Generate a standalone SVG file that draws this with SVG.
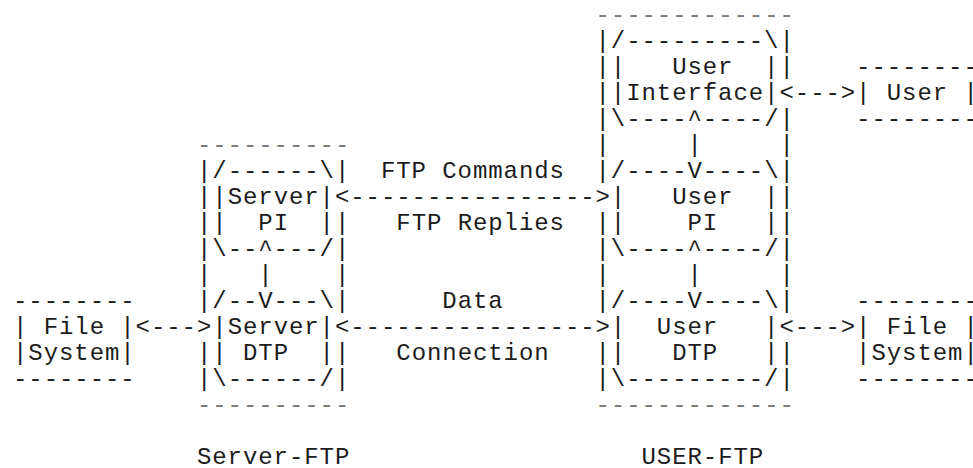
<svg xmlns="http://www.w3.org/2000/svg" width="973" height="468" viewBox="0 0 973 468" xml:space="preserve">
<style>
text{font-family:"Liberation Mono","DejaVu Sans Mono",monospace;font-size:24px;letter-spacing:0.93px;fill:#1c1c1c;white-space:pre}
.g{fill:#7a7a7a}
</style>
<rect width="973" height="468" fill="#ffffff"/>
<g id="user-ftp">
<text class="g" x="595.5" y="21.7">-------------</text>
<text class="g" x="595.5" y="411.7">-------------</text>
<text><tspan x="595.5" y="47.7">|</tspan><tspan x="595.5" y="73.7">|</tspan><tspan x="595.5" y="99.7">|</tspan><tspan x="595.5" y="125.7">|</tspan><tspan x="595.5" y="151.7">|</tspan><tspan x="595.5" y="177.7">|</tspan><tspan x="595.5" y="229.7">|</tspan><tspan x="595.5" y="255.7">|</tspan><tspan x="595.5" y="281.7">|</tspan><tspan x="595.5" y="307.7">|</tspan><tspan x="595.5" y="359.7">|</tspan><tspan x="595.5" y="385.7">|</tspan></text>
<text><tspan x="779.5" y="47.7">|</tspan><tspan x="779.5" y="73.7">|</tspan><tspan x="779.5" y="125.7">|</tspan><tspan x="779.5" y="151.7">|</tspan><tspan x="779.5" y="177.7">|</tspan><tspan x="779.5" y="203.7">|</tspan><tspan x="779.5" y="229.7">|</tspan><tspan x="779.5" y="255.7">|</tspan><tspan x="779.5" y="281.7">|</tspan><tspan x="779.5" y="307.7">|</tspan><tspan x="779.5" y="359.7">|</tspan><tspan x="779.5" y="385.7">|</tspan></text>
<text x="641.5" y="463.7">USER-FTP</text>
</g>
<g id="user-interface">
<text x="610.8" y="47.7">/---------\</text>
<text x="610.8" y="73.7">|   User  |</text>
<text x="610.8" y="99.7">|Interface|</text>
<text x="610.8" y="125.7">\----</text>
<text x="702.8" y="125.7">----/</text>
</g>
<g id="user-pi">
<text x="610.8" y="177.7">/----</text>
<text x="702.8" y="177.7">----\</text>
<text x="610.8" y="203.7">|   User  |</text>
<text x="610.8" y="229.7">|    PI   |</text>
<text x="610.8" y="255.7">\----</text>
<text x="702.8" y="255.7">----/</text>
</g>
<g id="user-dtp">
<text x="610.8" y="307.7">/----</text>
<text x="702.8" y="307.7">----\</text>
<text x="610.8" y="333.7">|  User   |</text>
<text x="610.8" y="359.7">|   DTP   |</text>
<text x="610.8" y="385.7">\---------/</text>
</g>
<g id="user">
<text x="856.1" y="73.7">--------</text>
<text x="856.1" y="99.7">| User |</text>
<text x="856.1" y="125.7">--------</text>
</g>
<g id="server-ftp">
<text class="g" x="196.9" y="151.7">----------</text>
<text class="g" x="196.9" y="411.7">----------</text>
<text><tspan x="196.9" y="177.7">|</tspan><tspan x="196.9" y="203.7">|</tspan><tspan x="196.9" y="229.7">|</tspan><tspan x="196.9" y="255.7">|</tspan><tspan x="196.9" y="281.7">|</tspan><tspan x="196.9" y="307.7">|</tspan><tspan x="196.9" y="359.7">|</tspan><tspan x="196.9" y="385.7">|</tspan></text>
<text><tspan x="334.9" y="177.7">|</tspan><tspan x="334.9" y="229.7">|</tspan><tspan x="334.9" y="255.7">|</tspan><tspan x="334.9" y="281.7">|</tspan><tspan x="334.9" y="307.7">|</tspan><tspan x="334.9" y="359.7">|</tspan><tspan x="334.9" y="385.7">|</tspan></text>
<text x="196.9" y="463.7">Server-FTP</text>
</g>
<g id="server-pi">
<text x="212.3" y="177.7">/------\</text>
<text x="212.3" y="203.7">|Server|</text>
<text x="212.3" y="229.7">|  PI  |</text>
<text x="212.3" y="255.7">\--</text>
<text x="273.6" y="255.7">---/</text>
</g>
<g id="server-dtp">
<text x="212.3" y="307.7">/--</text>
<text x="273.6" y="307.7">---\</text>
<text x="212.3" y="333.7">|Server|</text>
<text x="212.3" y="359.7">| DTP  |</text>
<text x="212.3" y="385.7">\------/</text>
</g>
<g id="file-system-server">
<text x="13.0" y="307.7">--------</text>
<text x="13.0" y="333.7">| File |</text>
<text x="13.0" y="359.7">|System|</text>
<text x="13.0" y="385.7">--------</text>
</g>
<g id="file-system-user">
<text x="856.1" y="307.7">--------</text>
<text x="856.1" y="333.7">| File |</text>
<text x="856.1" y="359.7">|System|</text>
<text x="856.1" y="385.7">--------</text>
</g>
<g id="connectors">
<text x="135.6" y="333.7">&lt;---&gt;</text>
<text x="334.9" y="203.7">&lt;----------------&gt;</text>
<text x="334.9" y="333.7">&lt;----------------&gt;</text>
<text x="779.5" y="333.7">&lt;---&gt;</text>
<text x="779.5" y="99.7">&lt;---&gt;</text>
<text><tspan x="258.3" y="255.7">^</tspan><tspan x="258.3" y="281.7">|</tspan><tspan x="258.3" y="307.7">V</tspan></text>
<text><tspan x="687.5" y="125.7">^</tspan><tspan x="687.5" y="151.7">|</tspan><tspan x="687.5" y="177.7">V</tspan></text>
<text><tspan x="687.5" y="255.7">^</tspan><tspan x="687.5" y="281.7">|</tspan><tspan x="687.5" y="307.7">V</tspan></text>
<text x="380.9" y="177.7">FTP Commands</text>
<text x="396.3" y="229.7">FTP Replies</text>
<text x="442.3" y="307.7">Data</text>
<text x="396.3" y="359.7">Connection</text>
</g>
</svg>
